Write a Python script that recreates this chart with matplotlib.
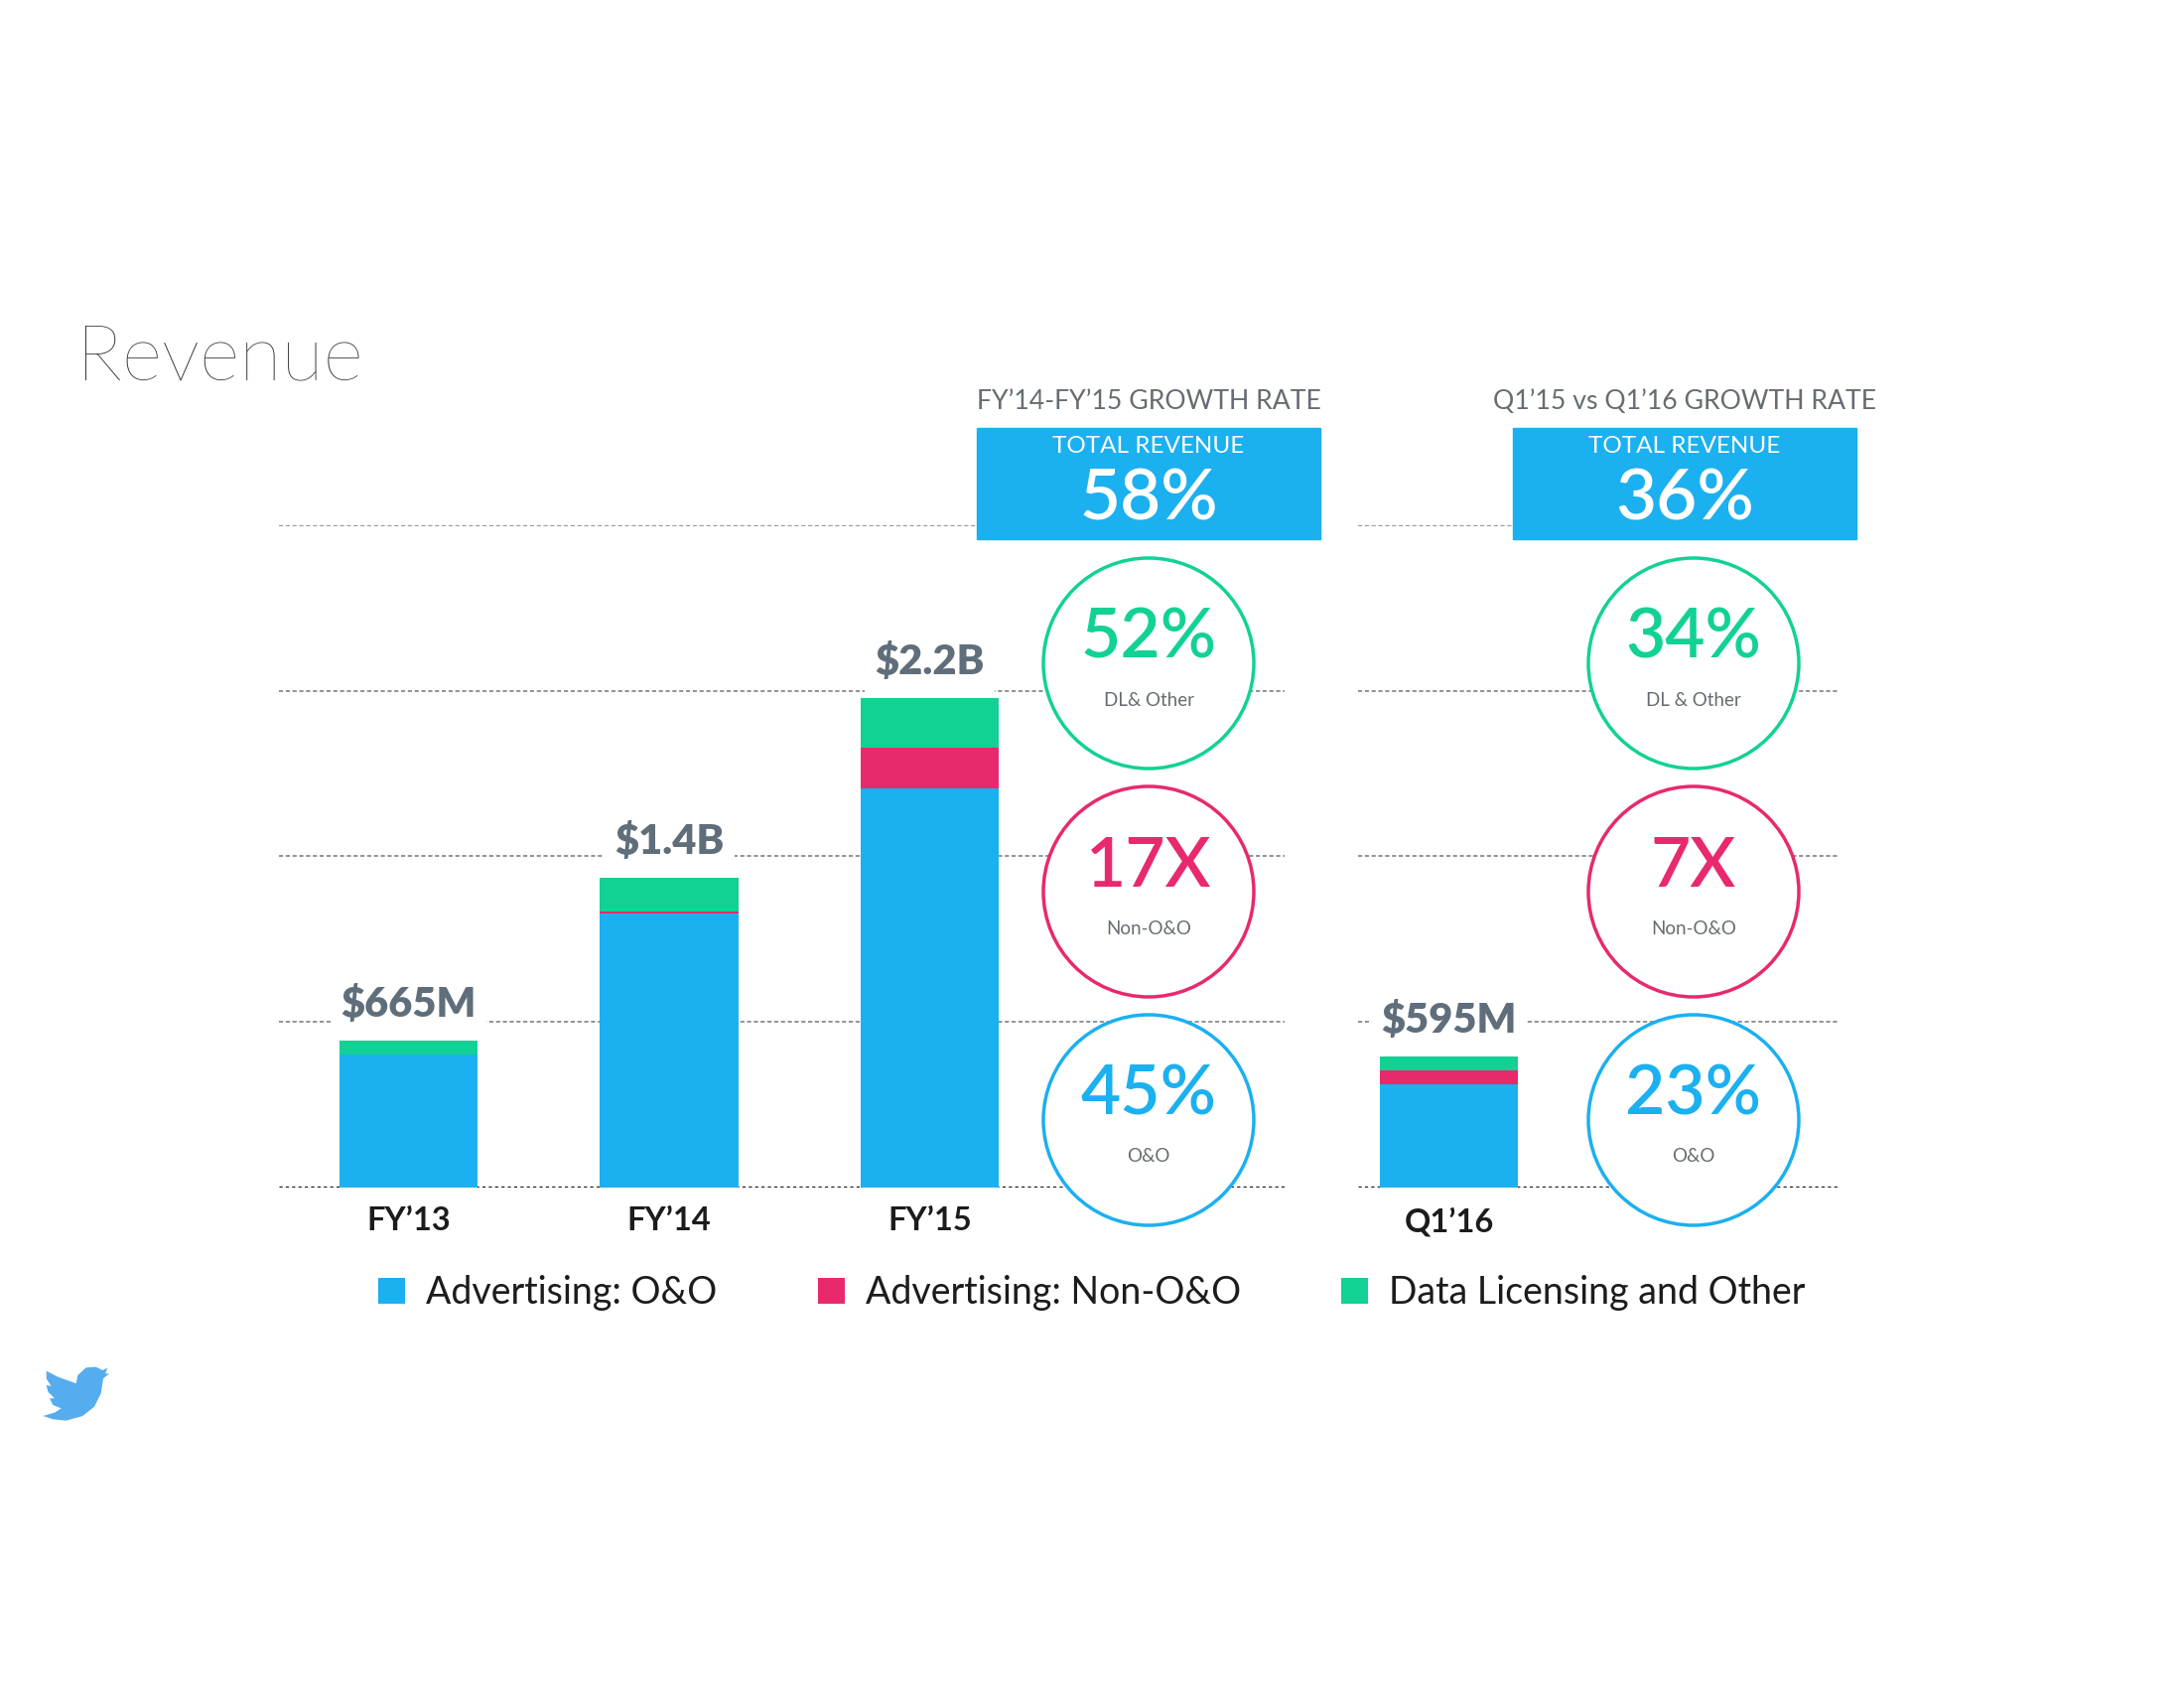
import matplotlib
matplotlib.use("Agg")
import matplotlib.pyplot as plt
from matplotlib.patches import Circle, Rectangle, Polygon


# data ($M)
fy_periods = ["FY’13", "FY’14", "FY’15"]
fy_oo = [602, 1242, 1807]
fy_non_oo = [0, 9, 185]
fy_dl = [63, 152, 226]
fy_totals = ["$665M", "$1.4B", "$2.2B"]

q_periods = ["Q1’16"]
q_oo = [469]
q_non_oo = [63]
q_dl = [63]
q_totals = ["$595M"]

series_names = ["Advertising: O&O", "Advertising: Non-O&O", "Data Licensing and Other"]

fy_header = "FY’14-FY’15 GROWTH RATE"
q_header = "Q1’15 vs Q1’16 GROWTH RATE"
fy_total_growth = "58%"
q_total_growth = "36%"
fy_growth = ["52%", "17X", "45%"]
q_growth = ["34%", "7X", "23%"]
fy_growth_names = ["DL& Other", "Non-O&O", "O&O"]
q_growth_names = ["DL & Other", "Non-O&O", "O&O"]

BLUE = "#1bb0f0"
PINK = "#e8296e"
GREEN = "#12d195"
SLATE = "#5f6e7a"
GRAY = "#666c72"
INK = "#1c1c1c"


def draw_bars(ax, periods, oo, non_oo, dl, totals):
    x = list(range(len(periods)))
    w = 0.53
    b1 = ax.bar(x, oo, w, color=BLUE, linewidth=0, label=series_names[0])
    b2 = ax.bar(x, non_oo, w, bottom=oo, color=PINK, linewidth=0,
                label=series_names[1])
    bottom3 = [a + b for a, b in zip(oo, non_oo)]
    b3 = ax.bar(x, dl, w, bottom=bottom3, color=GREEN, linewidth=0,
                label=series_names[2])
    for xi, top, lab in zip(x, [a + b for a, b in zip(bottom3, dl)], totals):
        ax.annotate(lab, (xi, top), xytext=(0, 12), textcoords="offset points",
                    ha="center", va="bottom", fontsize=30, fontweight="heavy",
                    color=SLATE,
                    bbox=dict(boxstyle="square,pad=0.25", fc="white", ec="none"))
    ax.set_xticks(x, periods)
    ax.set_ylim(0, 3000)
    ax.set_yticks([750, 1500, 2250, 3000])
    ax.set_axisbelow(True)
    ax.yaxis.grid(True, color="#7d8287", linewidth=1.2, linestyle=(0, (2.5, 1.6)))
    ax.axhline(0, color="#151515", linewidth=2.3, linestyle=(0, (1, 1)), zorder=0.5)
    ax.tick_params(axis="both", length=0, labelleft=False, pad=14)
    for lab in ax.get_xticklabels():
        lab.set_fontsize(23.5)
        lab.set_fontweight("bold")
        lab.set_color(INK)
    for s in ax.spines.values():
        s.set_visible(False)
    return b1, b2, b3


def growth_panel(deco, cx, box_cx, header, total, nums, names):
    deco.text(box_cx, 404, header, ha="center", va="center", fontsize=19.2, color=GRAY)
    deco.add_patch(Rectangle((box_cx - 173, 431), 346, 112, color=BLUE, zorder=3))
    deco.text(box_cx, 449, "TOTAL REVENUE", ha="center", va="center", fontsize=17.5,
              color="white", zorder=4)
    deco.text(box_cx, 503, total, ha="center", va="center", fontsize=51,
              fontweight="semibold", color="white", zorder=4)
    for cy, col, num, name in zip([668, 898, 1128], [GREEN, PINK, BLUE], nums, names):
        deco.add_patch(Circle((cx, cy), 106, facecolor="white", edgecolor=col,
                              linewidth=2.5, zorder=3))
        deco.text(cx, cy - 25, num, ha="center", va="center", fontsize=50,
                  fontweight="semibold", color=col, zorder=4)
        deco.text(cx, cy + 37, name, ha="center", va="center", fontsize=13.5,
                  color=GRAY, zorder=4)


def main():
    plt.rcParams["font.family"] = ["Lato", "DejaVu Sans"]
    fig = plt.figure(figsize=(22, 17), dpi=100)

    ax1 = fig.add_axes([0.1277, 0.2965, 0.4605, 0.3924])
    ax2 = fig.add_axes([0.6218, 0.2965, 0.2200, 0.3924])
    handles = draw_bars(ax1, fy_periods, fy_oo, fy_non_oo, fy_dl, fy_totals)
    draw_bars(ax2, q_periods, q_oo, q_non_oo, q_dl, q_totals)
    ax1.set_xlim(-0.497, 3.362)
    ax2.set_xlim(-0.35, 1.493)

    # overlay in pixel coords for the callouts
    deco = fig.add_axes([0, 0, 1, 1], zorder=5)
    deco.set_xlim(0, 2200)
    deco.set_ylim(1700, 0)
    deco.axis("off")
    deco.patch.set_visible(False)

    deco.text(77, 361, "Revenue", ha="left", va="center", fontsize=56,
              fontweight="light", color="#2b2e33")
    growth_panel(deco, 1157, 1157, fy_header, fy_total_growth, fy_growth, fy_growth_names)
    growth_panel(deco, 1706, 1697, q_header, q_total_growth, q_growth, q_growth_names)

    # twitter bird
    bird = [(140, 122), (175, 140), (230, 160), (235, 135), (260, 112), (290, 110),
            (310, 120), (325, 113), (318, 130), (330, 130), (312, 145), (305, 190),
            (285, 230), (250, 258), (200, 272), (160, 268), (130, 258), (165, 248),
            (185, 235), (160, 225), (150, 205), (165, 205), (145, 185), (140, 165),
            (155, 168), (140, 145)]
    deco.add_patch(Polygon([(x / 3, 1340 + y / 3) for x, y in bird], closed=True,
                           color="#55acee", linewidth=0))

    leg = fig.legend(handles=handles, labels=series_names, loc="center",
                     bbox_to_anchor=(0.5, 0.234), ncol=3, frameon=False,
                     fontsize=27, handlelength=0.72, handleheight=0.72,
                     handletextpad=0.56, columnspacing=2.7)
    for t in leg.get_texts():
        t.set_color(INK)

    fig.savefig("out.png", dpi=100, facecolor="white")
    plt.close(fig)


if __name__ == "__main__":
    main()
